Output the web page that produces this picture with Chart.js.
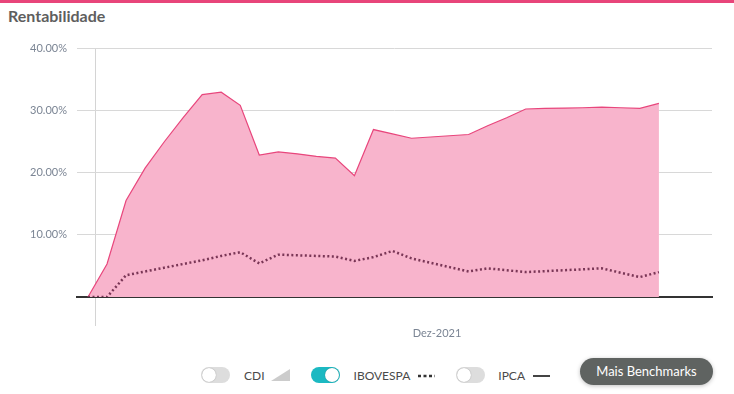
<!DOCTYPE html>
<html>
<head>
<meta charset="utf-8">
<script src="https://cdn.jsdelivr.net/npm/chart.js@4"></script>
<style>
  body { margin:0; width:734px; height:394px; background:#fff; font-family: Lato, sans-serif; position:relative; overflow:hidden; }
  .topbar { position:absolute; left:0; top:0; width:734px; height:3px; background:#e8457a; }
  h1 { position:absolute; left:8px; top:6px; margin:0; font-size:16px; font-weight:700; color:#5e5e5e; }
  #wrap { position:absolute; left:0; top:0; width:734px; height:350px; }
  .legend { position:absolute; top:367px; left:201px; display:flex; align-items:center; font-size:12px; font-weight:400; color:#4a4a4a; }
  .tog { width:29px; height:16px; border-radius:8px; background:#ddd; position:relative; }
  .tog::after { content:""; position:absolute; top:1px; left:1px; width:14px; height:14px; border-radius:50%; background:#fff; box-shadow:0 0 1px rgba(0,0,0,.4); }
  .tog.on { background:#1cb9c2; }
  .tog.on::after { left:14px; }
  .lbl { margin-left:14px; }
  .btn { position:absolute; left:580px; top:358px; width:133px; height:27px; border-radius:14px; background:#5f6361; color:#fff; font-size:13px; line-height:27px; text-align:center; box-shadow:0 1px 4px rgba(0,0,0,.25); }
</style>
</head>
<body>
<div class="topbar"></div>
<h1>Rentabilidade</h1>
<div id="wrap"><canvas id="chart"></canvas></div>
<div class="legend">
  <div class="tog"></div><span class="lbl">CDI</span>
  <svg width="19" height="12" style="margin-left:6px"><polygon points="0,12 19,12 19,0" fill="#ccc"/></svg>
  <div class="tog on" style="margin-left:21px"></div><span class="lbl">IBOVESPA</span>
  <svg width="17" height="12" style="margin-left:8px"><line x1="0" y1="7" x2="17" y2="7" stroke="#333" stroke-width="2.5" stroke-dasharray="3,2.5"/></svg>
  <div class="tog" style="margin-left:21px"></div><span class="lbl" style="margin-left:13px">IPCA</span>
  <svg width="17" height="12" style="margin-left:8px"><line x1="0" y1="7" x2="17" y2="7" stroke="#444" stroke-width="2"/></svg>
</div>
<div class="btn">Mais Benchmarks</div>
<script>
// carteira (rosa)
const carteira = [0, 5.3, 15.5, 20.7, 24.9, 28.8, 32.5, 32.9, 30.8, 22.8, 23.3, 23.0, 22.6, 22.3, 19.5,
  26.9, 26.2, 25.5, 25.7, 25.9, 26.1, 27.5, 28.8, 30.2, 30.3, 30.35, 30.4, 30.5, 30.4, 30.3, 31.1];
// ibovespa (pontilhado)
const ibovespa = [0, 0, 3.5, 4.1, 4.7, 5.3, 5.9, 6.6, 7.2, 5.4, 6.8, 6.7, 6.6, 6.5, 5.8,
  6.4, 7.4, 6.2, 5.5, 4.8, 4.1, 4.6, 4.3, 4.0, 4.15, 4.3, 4.45, 4.6, 3.9, 3.2, 4.0];
const xTicks = [0.42, 18.34];
const xTickLabels = ["", "Dez-2021"];
const yTicks = [0, 10, 20, 30, 40];

const pts = arr => arr.map((v, i) => ({ x: i, y: v }));

new Chart(document.getElementById("chart"), {
  type: "line",
  data: {
    datasets: [
      {
        label: "IBOVESPA",
        data: pts(ibovespa),
        borderColor: "#7a3656",
        borderWidth: 2.5,
        borderDash: [2, 2.5],
        pointRadius: 0,
        fill: false,
        tension: 0
      },
      {
        label: "Carteira",
        data: pts(carteira),
        borderColor: "#e8467c",
        backgroundColor: "#f8b4cc",
        borderWidth: 1.2,
        pointRadius: 0,
        fill: "origin",
        tension: 0
      }
    ]
  },
  options: {
    responsive: true,
    maintainAspectRatio: false,
    animation: false,
    layout: { padding: { left: 0, right: 22, top: 48, bottom: 3 } },
    plugins: { legend: { display: false }, tooltip: { enabled: false } },
    scales: {
      x: {
        type: "linear",
        min: -0.578,
        max: 32.79,
        afterFit: s => { s.height = 50; },
        afterBuildTicks: s => { s.ticks = xTicks.map(v => ({ value: v })); },
        ticks: {
          autoSkip: false,
          maxRotation: 0,
          padding: 1,
          color: "#7b8594",
          font: { family: "Lato", size: 11 },
          callback: (v, i) => xTickLabels[i]
        },
        grid: {
          color: ctx => ctx.index === 0 ? "#d4d4d4" : "rgba(0,0,0,0)",
          tickLength: 29,
          tickColor: ctx => ctx.index === 0 ? "#d4d4d4" : "rgba(0,0,0,0)"
        },
        border: { color: "#333", width: 2 }
      },
      y: {
        min: 0,
        max: 40,
        afterFit: s => { s.width = 77; },
        afterBuildTicks: s => { s.ticks = yTicks.map(v => ({ value: v })); },
        ticks: {
          padding: 10,
          color: "#7b8594",
          font: { family: "Lato", size: 11 },
          callback: v => v === 0 ? "" : v.toFixed(2) + "%"
        },
        grid: { color: "#d8d8d8", drawTicks: false },
        border: { display: false }
      }
    }
  }
});
</script>
</body>
</html>
